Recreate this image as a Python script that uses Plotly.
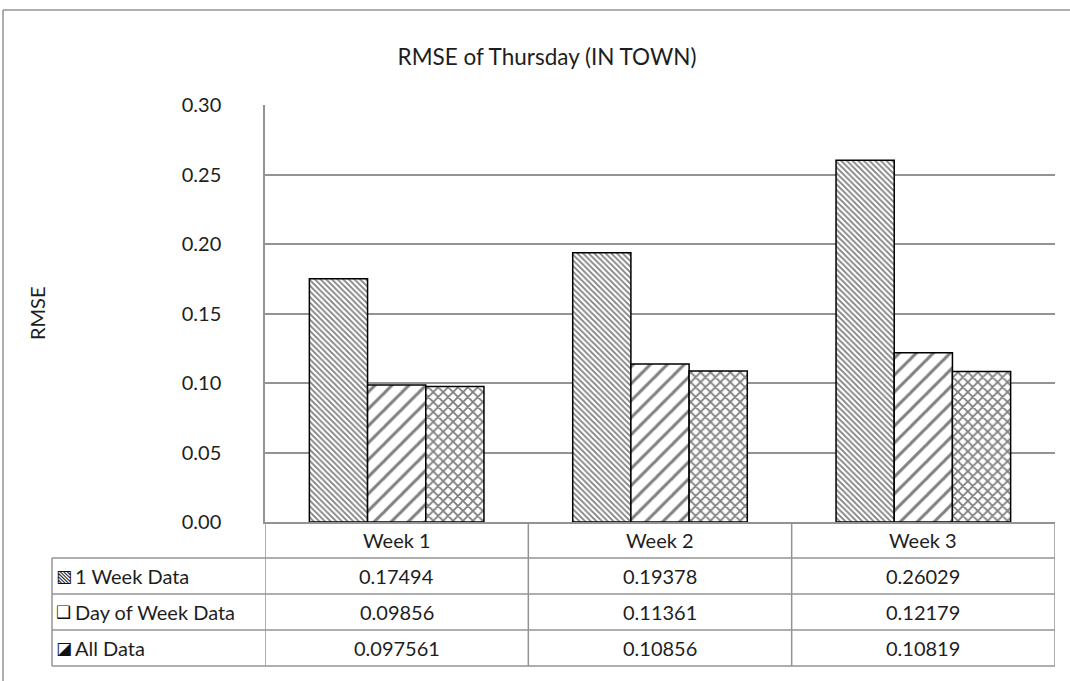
import plotly.graph_objects as go

categories = ["Week 1", "Week 2", "Week 3"]
series_names = ["1 Week Data", "Day of Week Data", "All Data"]
one_week = [0.17494, 0.19378, 0.26029]
day_of_week = [0.09856, 0.11361, 0.12179]
all_data = [0.097561, 0.10856, 0.10819]
value_labels = [
    ["0.17494", "0.19378", "0.26029"],
    ["0.09856", "0.11361", "0.12179"],
    ["0.097561", "0.10856", "0.10819"],
]
icons = ["▧", "❑", "◪"]
y_ticks = [0.0, 0.05, 0.10, 0.15, 0.20, 0.25, 0.30]

W, H = 1070, 681
L, R, T, B = 265, 15, 105, 159
PW, PH = W - L - R, H - T - B

def px(x):
    return (x - L) / PW

def py(y):
    return (H - B - y) / PH

FONT = "Lato, Carlito, 'Open Sans', sans-serif"
GRID = "#939393"
TXT = "#1e1e1e"

fig = go.Figure()
patterns = [dict(shape="\\", size=4, solidity=0.45, fgcolor="black", bgcolor="white"),
            dict(shape="/", size=12, solidity=0.25, fgcolor="black", bgcolor="white"),
            dict(shape="x", size=7, solidity=0.45, fgcolor="black", bgcolor="white")]
for name, vals, pat in zip(series_names, [one_week, day_of_week, all_data], patterns):
    fig.add_trace(go.Bar(
        x=categories, y=vals, name=name,
        marker=dict(color="white", pattern=pat, line=dict(color="black", width=1.5)),
        showlegend=False,
    ))

shapes = []
line = dict(color=GRID, width=1.5)
# outer chart border (left and top)
shapes.append(dict(type="line", xref="paper", yref="paper", x0=px(3), x1=px(3), y0=py(10), y1=py(H + 5), line=line))
shapes.append(dict(type="line", xref="paper", yref="paper", x0=px(3), x1=px(W + 5), y0=py(10), y1=py(10), line=line))
# table horizontal lines
row_edges = [558, 594, 630, 666]
for ye in row_edges:
    shapes.append(dict(type="line", xref="paper", yref="paper", x0=px(52), x1=1, y0=py(ye), y1=py(ye), line=line))
# table vertical lines at category boundaries
n = len(categories)
for i in range(n + 1):
    xb = i - 0.5
    shapes.append(dict(type="line", xref="x", yref="paper", x0=xb, x1=xb, y0=0, y1=py(666), line=line))
shapes.append(dict(type="line", xref="paper", yref="paper", x0=px(52), x1=px(52), y0=py(558), y1=py(666), line=line))

annotations = []
tf = dict(family=FONT, size=20, color=TXT)
for i, c in enumerate(categories):
    annotations.append(dict(x=c, y=py(540), xref="x", yref="paper", xanchor="center", yanchor="middle",
                            text=c, showarrow=False, font=tf))
for r, (nm, ic) in enumerate(zip(series_names, icons)):
    yc = py((row_edges[r] + row_edges[r + 1]) / 2)
    annotations.append(dict(x=px(54), y=yc, xref="paper", yref="paper", xanchor="left", yanchor="middle",
                            text=ic, showarrow=False, font=dict(family="DejaVu Sans", size=17, color="#111")))
    annotations.append(dict(x=px(73), y=yc, xref="paper", yref="paper", xanchor="left", yanchor="middle",
                            text=nm, showarrow=False, font=tf))
    for i, c in enumerate(categories):
        annotations.append(dict(x=c, y=yc, xref="x", yref="paper", xanchor="center", yanchor="middle",
                                text=value_labels[r][i], showarrow=False, font=tf))
annotations.append(dict(x=px(37), y=py(313), xref="paper", yref="paper", xanchor="center", yanchor="middle",
                        text="RMSE", textangle=-90, showarrow=False, font=tf))

fig.update_layout(
    width=W, height=H,
    margin=dict(l=L, r=R, t=T, b=B),
    paper_bgcolor="white", plot_bgcolor="white",
    barmode="group", bargap=0.337, bargroupgap=0,
    title=dict(text="RMSE of Thursday (IN TOWN)", x=px(547), xref="paper", xanchor="center",
               y=1 - 57 / H, yanchor="middle", font=dict(family=FONT, size=22.5, color=TXT)),
    font=dict(family=FONT, size=20, color=TXT),
    shapes=shapes, annotations=annotations,
)
fig.update_xaxes(showticklabels=False, showline=True, linecolor=GRID, linewidth=1.5, ticks="",
                 showgrid=False, zeroline=False, range=[-0.5, 2.5])
fig.update_yaxes(range=[0, 0.30], tickvals=y_ticks, tickformat=".2f", showgrid=True, gridcolor=GRID,
                 gridwidth=1.5, showline=True, linecolor=GRID, linewidth=1.5, zeroline=False,
                 ticks="", ticklabelstandoff=38, tickfont=dict(family=FONT, size=20, color=TXT))

fig.write_html("out.html", config={"displayModeBar": False},
               post_script="document.body.style.margin='0';document.body.style.overflow='hidden';")
